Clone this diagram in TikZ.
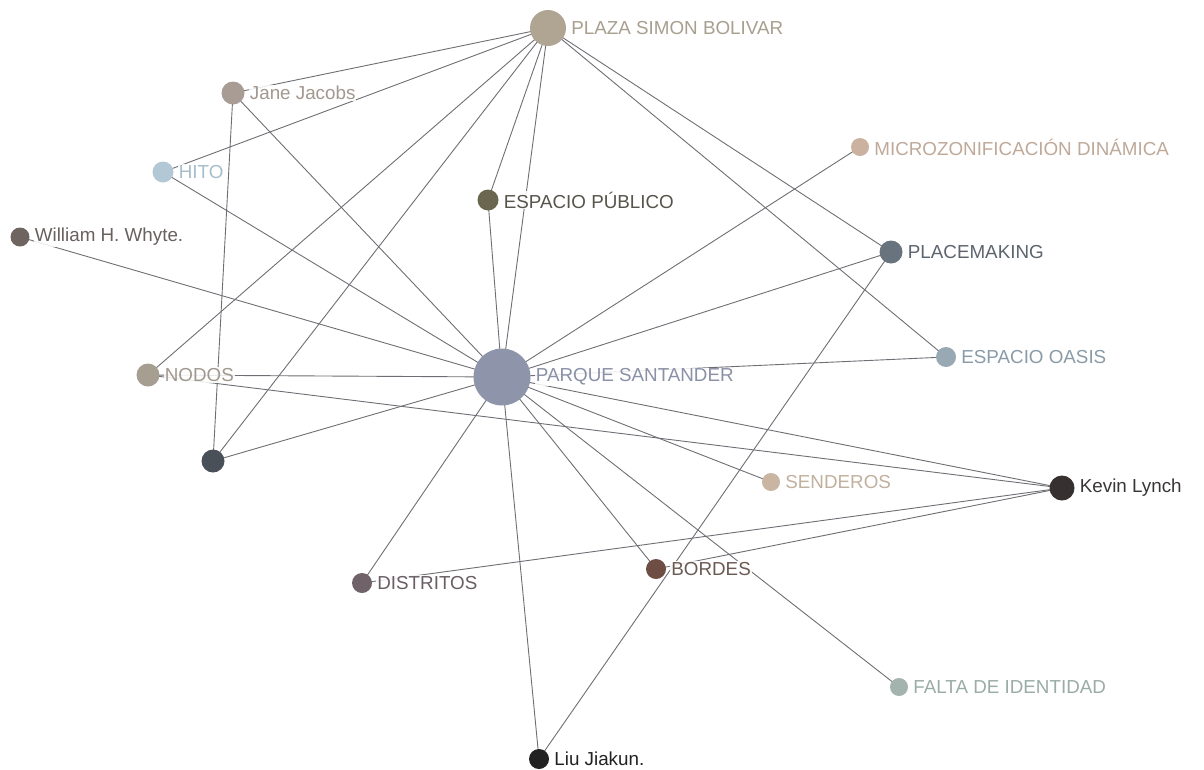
\documentclass[tikz,border=0pt]{standalone}
\usepackage{fontspec}
\setmainfont{Liberation Sans}
\usetikzlibrary{backgrounds}
\definecolor{cPlaza}{HTML}{B0A593}
\definecolor{tPlaza}{HTML}{A89F8F}
\definecolor{cJane}{HTML}{A89C94}
\definecolor{tJane}{HTML}{A29890}
\definecolor{cHito}{HTML}{B3C8D5}
\definecolor{tHito}{HTML}{A6BDCB}
\definecolor{cEP}{HTML}{6B6650}
\definecolor{tEP}{HTML}{57544B}
\definecolor{cMicro}{HTML}{CBB2A0}
\definecolor{tMicro}{HTML}{BFA999}
\definecolor{cWill}{HTML}{6E6460}
\definecolor{tWill}{HTML}{68615D}
\definecolor{cPlace}{HTML}{69737E}
\definecolor{tPlace}{HTML}{5C646E}
\definecolor{cNodos}{HTML}{A69E90}
\definecolor{tNodos}{HTML}{A0988E}
\definecolor{cParque}{HTML}{8E95AB}
\definecolor{tParque}{HTML}{8A90A6}
\definecolor{cOasis}{HTML}{98A9B4}
\definecolor{tOasis}{HTML}{8A9BA8}
\definecolor{cDark}{HTML}{4A5058}
\definecolor{cSend}{HTML}{C9B5A1}
\definecolor{tSend}{HTML}{C2B09E}
\definecolor{cKevin}{HTML}{363030}
\definecolor{tKevin}{HTML}{3A3636}
\definecolor{cDist}{HTML}{6F6268}
\definecolor{tDist}{HTML}{685E64}
\definecolor{cBord}{HTML}{6E4E44}
\definecolor{tBord}{HTML}{6B5A53}
\definecolor{cFalta}{HTML}{A3B4AE}
\definecolor{tFalta}{HTML}{9AACA6}
\definecolor{cLiu}{HTML}{222222}
\definecolor{tLiu}{HTML}{222222}
\definecolor{edgegray}{HTML}{6E6E74}
\tikzset{
  x=1pt, y=-1pt,
  dot/.style={circle, inner sep=0pt, minimum size=#1, draw=none},
  lbl/.style={anchor=west, inner sep=1pt, xshift=4pt, fill=white, fill opacity=0.85, text opacity=1,
     font=\fontsize{18.8}{20}\selectfont},
  link/.style={draw=edgegray, line width=0.9pt},
}
\begin{document}
\begin{tikzpicture}
\useasboundingbox (0,0) rectangle (1204,769);
% nodes
\node[dot=36pt, fill=cPlaza] (P) at (548,28) {};
\node[dot=23pt, fill=cJane] (J) at (233,93) {};
\node[dot=21pt, fill=cHito] (H) at (163,172) {};
\node[dot=21pt, fill=cEP] (E) at (488,200) {};
\node[dot=18pt, fill=cMicro] (M) at (860,147) {};
\node[dot=19pt, fill=cWill] (W) at (20,237) {};
\node[dot=23pt, fill=cPlace] (PM) at (891,252) {};
\node[dot=23pt, fill=cNodos] (N) at (148,375) {};
\node[dot=57pt, fill=cParque] (S) at (502,377) {};
\node[dot=20pt, fill=cOasis] (O) at (946,357) {};
\node[dot=23pt, fill=cDark] (D) at (213,461) {};
\node[dot=18pt, fill=cSend] (SE) at (771,482) {};
\node[dot=25pt, fill=cKevin] (K) at (1062,488) {};
\node[dot=20pt, fill=cDist] (DI) at (362,583) {};
\node[dot=20pt, fill=cBord] (B) at (656,569) {};
\node[dot=18pt, fill=cFalta] (F) at (899,687) {};
\node[dot=20pt, fill=cLiu] (L) at (539,759) {};
% labels
\node[lbl, text=tPlaza] (Pl) at (P.east) {PLAZA SIMON BOLIVAR};
\node[lbl, text=tJane] (Jl) at (J.east) {Jane Jacobs};
\node[lbl, text=tHito] (Hl) at (H.east) {HITO};
\node[lbl, text=tEP] (El) at (E.east) {ESPACIO PÚBLICO};
\node[lbl, text=tMicro] (Ml) at (M.east) {MICROZONIFICACIÓN DINÁMICA};
\node[lbl, text=tWill] (Wl) at (W.east) {William H. Whyte.};
\node[lbl, text=tPlace] (PMl) at (PM.east) {PLACEMAKING};
\node[lbl, text=tNodos] (Nl) at (N.east) {NODOS};
\node[lbl, text=tParque] (Sl) at (S.east) {PARQUE SANTANDER};
\node[lbl, text=tOasis] (Ol) at (O.east) {ESPACIO OASIS};
\node[lbl, text=tSend] (SEl) at (SE.east) {SENDEROS};
\node[lbl, text=tKevin] (Kl) at (K.east) {Kevin Lynch};
\node[lbl, text=tDist] (DIl) at (DI.east) {DISTRITOS};
\node[lbl, text=tBord] (Bl) at (B.east) {BORDES};
\node[lbl, text=tFalta] (Fl) at (F.east) {FALTA DE IDENTIDAD};
\node[lbl, text=tLiu] (Ll) at (L.east) {Liu Jiakun.};
% edges
\begin{pgfonlayer}{background}
\path[link] (P.center) -- (J.center);
\path[link] (P.center) -- (H.center);
\path[link] (P.center) -- (N.center);
\path[link] (P.center) -- (D.center);
\path[link] (P.center) -- (E.center);
\path[link] (P.center) -- (S.center);
\path[link] (P.center) -- (PM.center);
\path[link] (P.center) -- (O.center);
\path[link] (J.center) -- (D.center);
\path[link] (J.center) -- (S.center);
\path[link] (H.center) -- (S.center);
\path[link] (W.center) -- (S.center);
\path[link] (N.center) -- (S.center);
\path[link] (N.center) -- (K.center);
\path[link] (D.center) -- (S.center);
\path[link] (E.center) -- (S.center);
\path[link] (M.center) -- (S.center);
\path[link] (PM.center) -- (S.center);
\path[link] (PM.center) -- (L.center);
\path[link] (O.center) -- (S.center);
\path[link] (S.center) -- (SE.center);
\path[link] (S.center) -- (K.center);
\path[link] (S.center) -- (B.center);
\path[link] (S.center) -- (F.center);
\path[link] (S.center) -- (DI.center);
\path[link] (S.center) -- (L.center);
\path[link] (K.center) -- (DI.center);
\path[link] (K.center) -- (B.center);
\end{pgfonlayer}
\end{tikzpicture}
\end{document}
